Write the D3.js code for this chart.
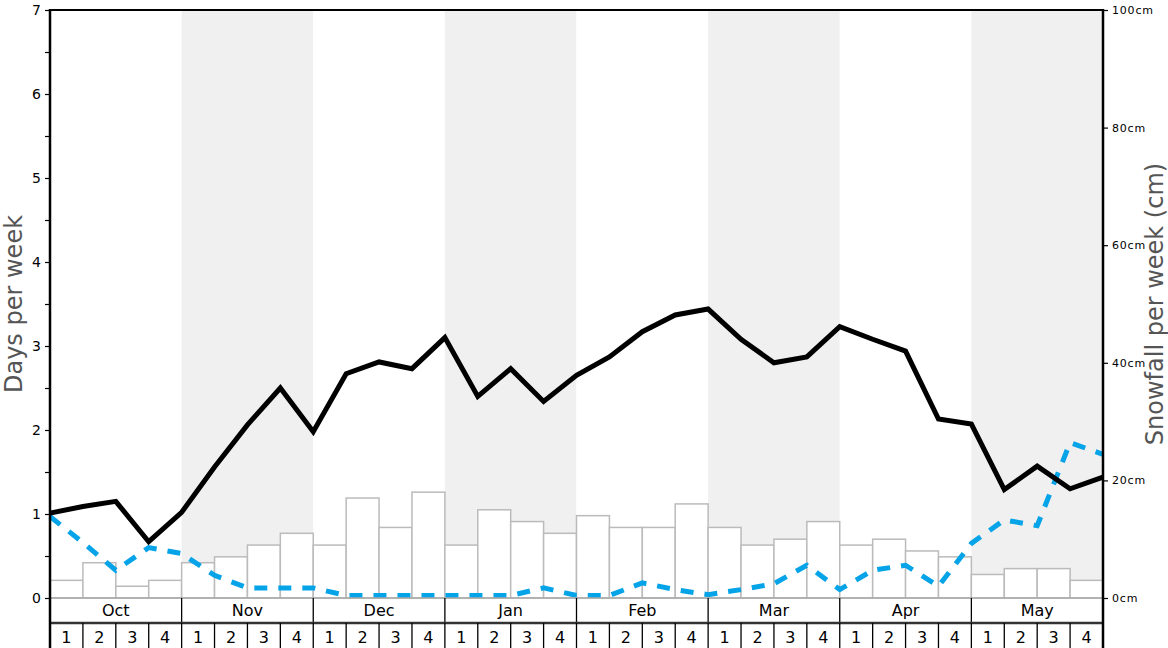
<!DOCTYPE html>
<html><head><meta charset="utf-8">
<script src="https://cdn.jsdelivr.net/npm/d3@7"></script>
<style>body{margin:0;background:#fff} svg{display:block;font-family:"DejaVu Sans",sans-serif}</style>
</head><body><svg id="c" width="1168" height="648"></svg>
<script>
const months = ["Oct","Nov","Dec","Jan","Feb","Mar","Apr","May"];
const weekLabels = ["1","2","3","4"];
// weekly snowfall (cm), one per week
const snowfallCm = [3,6,2,3, 6,7,9,11, 9,17,12,18, 9,15,13,11, 14,12,12,16, 12,9,10,13, 9,10,8,7, 4,5,5,3];
// solid black line (days per week), at week boundaries
const solidDays = [1.01,1.09,1.15,0.67,1.02,1.56,2.06,2.50,1.98,2.67,2.81,2.73,3.10,2.40,2.73,2.34,2.65,2.87,3.17,3.37,3.44,3.08,2.80,2.87,3.23,3.08,2.94,2.13,2.07,1.29,1.57,1.30,1.44];
// dashed blue line (days per week), at week boundaries
const dashedDays = [0.97,0.66,0.33,0.60,0.53,0.27,0.12,0.12,0.12,0.03,0.03,0.03,0.03,0.03,0.03,0.12,0.03,0.03,0.18,0.10,0.04,0.10,0.17,0.39,0.10,0.33,0.39,0.14,0.65,0.93,0.86,1.85,1.71];
const leftTicks = [0,0.5,1,1.5,2,2.5,3,3.5,4,4.5,5,5.5,6,6.5,7];
const rightTicks = [0,20,40,60,80,100];

const L = 50, R = 1103, T = 10, B = 598, MROW = 623, BOT = 648;
const svg = d3.select("#c");
const nWeeks = months.length * weekLabels.length;
const x = d3.scaleLinear().domain([0, nWeeks]).range([L, R]);
const yL = d3.scaleLinear().domain([0, 7]).range([B, T]);
const yR = d3.scaleLinear().domain([0, 100]).range([B, T]);

// shaded month bands
svg.append("g").selectAll("rect").data(months).join("rect")
  .attr("x", (d,i) => x(i*4)).attr("y", T)
  .attr("width", (d,i) => x(i*4+4) - x(i*4)).attr("height", B - T)
  .attr("fill", (d,i) => i % 2 ? "#f0f0f0" : "#ffffff");

// bars
svg.append("g").selectAll("rect").data(snowfallCm).join("rect")
  .attr("x", (d,i) => x(i)).attr("y", d => yR(d))
  .attr("width", (d,i) => x(i+1) - x(i)).attr("height", d => B - yR(d))
  .attr("fill", "#fff").attr("stroke", "#bbbbbb").attr("stroke-width", 1.5);

const line = d3.line().x((d,i) => x(i)).y(d => yL(d));
svg.append("path").datum(dashedDays).attr("d", line)
  .attr("fill", "none").attr("stroke", "#05a3e8").attr("stroke-width", 5)
  .attr("stroke-dasharray", "13,11");
svg.append("path").datum(solidDays).attr("d", line)
  .attr("fill", "none").attr("stroke", "#000").attr("stroke-width", 5);

// left axis
const ax = svg.append("g").attr("transform", `translate(${L},0)`)
  .call(d3.axisLeft(yL).tickValues(leftTicks).tickSize(5).tickPadding(4)
    .tickFormat(d => Number.isInteger(d) ? d : ""));
ax.select(".domain").remove();
ax.selectAll("text").attr("font-size", 14).attr("font-family", "DejaVu Sans").attr("fill", "#000");
ax.selectAll("line").attr("stroke", "#000").attr("stroke-width", 1.2);

// right axis
const ar = svg.append("g").attr("transform", `translate(${R},0)`)
  .call(d3.axisRight(yR).tickValues(rightTicks).tickSize(5).tickPadding(4)
    .tickFormat(d => d + "cm"));
ar.select(".domain").remove();
ar.selectAll("text").attr("font-size", 11).attr("letter-spacing", 0.8).attr("font-family", "DejaVu Sans").attr("fill", "#000");
ar.selectAll("line").attr("stroke", "#000").attr("stroke-width", 1.2);

// table rows
svg.append("rect").attr("x", L).attr("y", B + 1).attr("width", R - L).attr("height", BOT - B).attr("fill", "#fff");
svg.append("line").attr("x1", L).attr("x2", R).attr("y1", B).attr("y2", B)
  .attr("stroke", "#aaaaaa").attr("stroke-width", 1.5);
svg.append("g").selectAll("line").data(d3.range(1, months.length)).join("line")
  .attr("x1", i => x(i*4)).attr("x2", i => x(i*4)).attr("y1", B).attr("y2", MROW)
  .attr("stroke", "#000").attr("stroke-width", 1.3);
svg.append("g").selectAll("text").data(months).join("text")
  .attr("x", (d,i) => x(i*4+2)).attr("y", 616).attr("text-anchor", "middle")
  .attr("font-size", 16).attr("fill", "#000").text(d => d);
svg.append("line").attr("x1", L).attr("x2", R).attr("y1", MROW).attr("y2", MROW)
  .attr("stroke", "#333").attr("stroke-width", 2.5);
svg.append("g").selectAll("line").data(d3.range(1, nWeeks)).join("line")
  .attr("x1", i => x(i)).attr("x2", i => x(i)).attr("y1", MROW).attr("y2", BOT)
  .attr("stroke", "#000").attr("stroke-width", 1.3);
svg.append("g").selectAll("text").data(d3.range(nWeeks)).join("text")
  .attr("x", i => x(i + 0.5)).attr("y", 643).attr("text-anchor", "middle")
  .attr("font-size", 16).attr("fill", "#000").text(i => weekLabels[i % 4]);

// frame
svg.append("line").attr("x1", L).attr("x2", R).attr("y1", T).attr("y2", T).attr("stroke", "#000").attr("stroke-width", 2);
svg.append("line").attr("x1", L).attr("x2", L).attr("y1", T - 1).attr("y2", BOT).attr("stroke", "#000").attr("stroke-width", 2.5);
svg.append("line").attr("x1", R).attr("x2", R).attr("y1", T - 1).attr("y2", BOT).attr("stroke", "#000").attr("stroke-width", 2.5);

// axis titles
svg.append("text").attr("transform", `translate(22,${(T+B)/2}) rotate(-90)`)
  .attr("text-anchor", "middle").attr("font-size", 24).attr("fill", "#555").text("Days per week");
svg.append("text").attr("transform", `translate(1163,${(T+B)/2}) rotate(-90)`)
  .attr("text-anchor", "middle").attr("font-size", 24).attr("fill", "#555").text("Snowfall per week (cm)");
</script></body></html>
